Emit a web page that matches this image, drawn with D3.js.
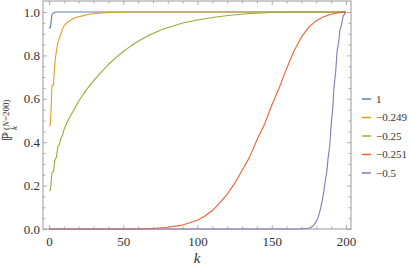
<!DOCTYPE html>
<html>
<head>
<meta charset="utf-8">
<script src="https://cdn.jsdelivr.net/npm/d3@7/dist/d3.min.js"></script>
<style>
  body { margin: 0; background: #fff; }
  svg text { font-family: 'Liberation Serif', serif; fill: #333; }
</style>
</head>
<body>
<div id="chart"></div>
<script>
// values, k = 0..200
var seriesNames = ["1", "\u22120.249", "\u22120.25", "\u22120.251", "\u22120.5"];
var seriesColors = ["#5E81B5", "#E19C24", "#8FB032", "#EB6235", "#8778B3"];

var kBlue = [0, 1, 2, 3, 4, 5, 200];
var pBlue = [0.925, 0.93, 0.99, 0.995, 0.999, 1, 1];

var kOrange = [0, 1, 2, 3, 4, 5, 6, 7, 8, 9, 10, 12, 14, 17, 21, 27, 35, 45, 60, 200];
var pOrange = [0.475, 0.48, 0.66, 0.665, 0.77, 0.82, 0.86, 0.88, 0.90, 0.92, 0.935, 0.95, 0.96, 0.972, 0.98, 0.99, 0.996, 0.999, 1, 1];

var kGreen = [0, 1, 2, 3, 4, 5, 6, 7, 8, 9, 10, 12, 14, 16, 18, 20, 25, 30, 35, 40, 45, 50, 55, 60, 68, 77, 90, 100, 110, 122, 135, 150, 170, 200];
var pGreen = [0.177, 0.18, 0.26, 0.265, 0.32, 0.33, 0.38, 0.39, 0.42, 0.43, 0.456, 0.49, 0.515, 0.54, 0.565, 0.59, 0.64, 0.683, 0.722, 0.758, 0.79, 0.818, 0.843, 0.865, 0.895, 0.922, 0.949, 0.963, 0.975, 0.985, 0.993, 0.998, 1, 1];

var kRed = [0, 60, 70, 80, 90, 100, 105, 110, 115, 120, 125, 130, 135, 140, 145, 150, 155, 160, 165, 170, 175, 180, 185, 190, 195, 200];
var pRed = [0, 0, 0.002, 0.008, 0.018, 0.04, 0.06, 0.085, 0.12, 0.16, 0.21, 0.27, 0.33, 0.41, 0.48, 0.57, 0.65, 0.74, 0.82, 0.885, 0.93, 0.96, 0.978, 0.99, 0.997, 1];

var kPurple = [0, 170, 174, 176, 178, 180, 181, 182, 183, 184, 185, 186, 187, 188, 189, 190, 191, 192, 193, 194, 195, 196, 197, 198, 199, 200];
var pPurple = [0, 0, 0.002, 0.006, 0.015, 0.035, 0.05, 0.07, 0.10, 0.13, 0.17, 0.22, 0.26, 0.33, 0.38, 0.48, 0.55, 0.66, 0.72, 0.82, 0.86, 0.92, 0.94, 0.98, 0.99, 1];

var xMajor = [0, 50, 100, 150, 200];
var yMajor = [0.0, 0.2, 0.4, 0.6, 0.8, 1.0];

var svgWidth = 410;
var svgHeight = 273;

var plot = { left: 43, right: 351, top: 1, bottom: 229 };
var serif = "'Liberation Serif', serif";

var svg = d3.select("#chart")
    .append("svg")
    .attr("width", svgWidth)
    .attr("height", svgHeight)
    .attr("font-family", serif);

var xScale = d3.scaleLinear()
    .domain([-4.04, 203.37])
    .range([plot.left, plot.right]);

var yScale = d3.scaleLinear()
    .domain([0, 1.0507])
    .range([plot.bottom, plot.top]);

var xMinor = d3.range(0, 201, 10).filter(d => xMajor.indexOf(d) < 0);
var yMinor = d3.range(0, 21).map(d => d * 0.05).filter(d => Math.round(d * 100) % 20 !== 0);

// axes, ticks pointing inwards on all four sides
function drawAxis(axisFn, scale, transform, major, minor, labels, pad) {
    var gMaj = svg.append("g")
        .attr("transform", transform)
        .call(axisFn(scale).tickValues(major).tickSize(-4).tickPadding(pad)
            .tickFormat(labels ? (scale === xScale ? d3.format("d") : d3.format(".1f")) : ""));
    var gMin = svg.append("g")
        .attr("transform", transform)
        .call(axisFn(scale).tickValues(minor).tickSize(-2.5).tickFormat(""));
    [gMaj, gMin].forEach(function(g) {
        g.attr("font-family", null).attr("font-size", 13);
        g.select(".domain").remove();
        g.selectAll("line").attr("stroke", "#999").attr("stroke-width", 0.8);
        g.selectAll("text").attr("fill", "#333").style("font-family", serif);
    });
}

drawAxis(d3.axisBottom, xScale, `translate(0, ${plot.bottom})`, xMajor, xMinor, true, 8);
drawAxis(d3.axisTop, xScale, `translate(0, ${plot.top})`, xMajor, xMinor, false, 3);
drawAxis(d3.axisLeft, yScale, `translate(${plot.left}, 0)`, yMajor, yMinor, true, 3);
drawAxis(d3.axisRight, yScale, `translate(${plot.right}, 0)`, yMajor, yMinor, false, 3);

// frame
svg.append("rect")
    .attr("x", plot.left)
    .attr("y", plot.top)
    .attr("width", plot.right - plot.left)
    .attr("height", plot.bottom - plot.top)
    .attr("fill", "none")
    .attr("stroke", "#999")
    .attr("stroke-width", 1);

var allK = [kBlue, kOrange, kGreen, kRed, kPurple];
var allP = [pBlue, pOrange, pGreen, pRed, pPurple];

var line = d3.line()
    .x(d => xScale(d[0]))
    .y(d => yScale(d[1]));

svg.append("clipPath").attr("id", "clip")
    .append("rect")
    .attr("x", plot.left).attr("y", plot.top - 1)
    .attr("width", plot.right - plot.left)
    .attr("height", plot.bottom - plot.top + 2);

var lines = svg.append("g").attr("clip-path", "url(#clip)");
allK.forEach(function(ks, i) {
    var pts = ks.map((k, j) => [k, allP[i][j]]);
    lines.append("path")
        .datum(pts)
        .attr("d", line)
        .attr("fill", "none")
        .attr("stroke", seriesColors[i])
        .attr("stroke-width", 1.1)
        .attr("stroke-linejoin", "round");
});

// axis labels
svg.append("text")
    .attr("x", 197)
    .attr("y", 263)
    .attr("text-anchor", "middle")
    .attr("font-size", 15)
    .attr("font-style", "italic")
    .text("k");

var yLab = svg.append("g")
    .attr("transform", "translate(12, 141) rotate(-90)");
yLab.append("text")
    .attr("x", 0).attr("y", 0)
    .attr("font-size", 14)
    .text("\u2119");
yLab.append("text")
    .attr("x", 11).attr("y", 5)
    .attr("font-size", 9)
    .attr("font-style", "italic")
    .text("k");
var sup = yLab.append("text")
    .attr("x", 11).attr("y", -3)
    .attr("font-size", 9);
sup.append("tspan").text("(");
sup.append("tspan").attr("font-style", "italic").text("N");
sup.append("tspan").text("=200)");

// legend
var legend = svg.append("g");
seriesNames.forEach(function(name, i) {
    var ly = 99 + i * 18.5;
    legend.append("line")
        .attr("x1", 362).attr("x2", 371)
        .attr("y1", ly).attr("y2", ly)
        .attr("stroke", seriesColors[i])
        .attr("stroke-width", 1.5);
    legend.append("text")
        .attr("x", 376)
        .attr("y", ly)
        .attr("dy", "0.35em")
        .attr("font-size", 11)
        .text(name);
});
</script>
</body>
</html>
